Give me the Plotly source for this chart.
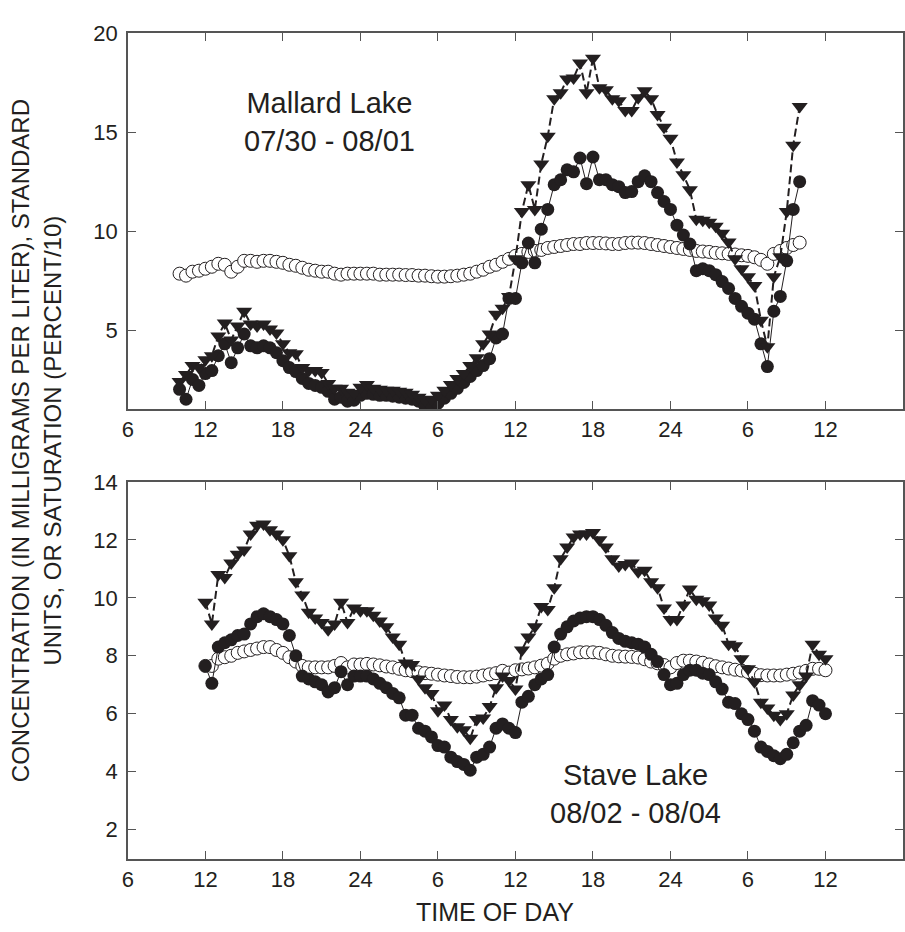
import plotly.graph_objects as go

# ---------------- data ----------------
# Sampling times (hours from midnight of first day), half-hourly
t_mallard = [10, 10.5, 11, 11.5, 12, 12.5, 13, 13.5, 14, 14.5, 15, 15.5, 16, 16.5, 17, 17.5,
             18, 18.5, 19, 19.5, 20, 20.5, 21, 21.5, 22, 22.5, 23, 23.5, 24, 24.5, 25, 25.5,
             26, 26.5, 27, 27.5, 28, 28.5, 29, 29.5, 30, 30.5, 31, 31.5, 32, 32.5, 33, 33.5,
             34, 34.5, 35, 35.5, 36, 36.5, 37, 37.5, 38, 38.5, 39, 39.5, 40, 40.5, 41, 41.5,
             42, 42.5, 43, 43.5, 44, 44.5, 45, 45.5, 46, 46.5, 47, 47.5, 48, 48.5, 49, 49.5,
             50, 50.5, 51, 51.5, 52, 52.5, 53, 53.5, 54, 54.5, 55, 55.5, 56, 56.5, 57, 57.5, 58]

mallard_open = [7.85, 7.75, 7.95, 8.0, 8.1, 8.2, 8.35, 8.3,
                7.95, 8.2, 8.5, 8.5, 8.45, 8.5, 8.5, 8.45,
                8.4, 8.3, 8.25, 8.15, 8.05, 8.0, 7.95, 7.95,
                7.85, 7.8, 7.85, 7.85, 7.85, 7.85, 7.85, 7.8,
                7.8, 7.8, 7.8, 7.78, 7.78, 7.75, 7.75, 7.72,
                7.7, 7.7, 7.72, 7.75, 7.8, 7.85, 7.95, 8.05,
                8.2, 8.3, 8.45, 8.6, 8.75, 8.85, 8.95, 9.0,
                9.05, 9.15, 9.2, 9.25, 9.3, 9.35, 9.35, 9.4,
                9.4, 9.4, 9.38, 9.35, 9.35, 9.4, 9.42, 9.42,
                9.4, 9.35, 9.3, 9.25, 9.2, 9.15, 9.1, 9.05,
                9.0, 8.97, 8.95, 8.9, 8.88, 8.85, 8.82, 8.78,
                8.75, 8.68, 8.55, 8.35, 8.85, 9.0, 9.15, 9.3,
                9.42]

mallard_filled = [2.0, 1.5, 2.5, 2.2, 2.8, 2.95, 3.7, 4.3,
                  3.35, 4.1, 4.8, 4.2, 4.1, 4.2, 4.1, 3.85,
                  3.45, 3.1, 2.9, 2.55, 2.3, 2.2, 2.1, 1.9,
                  1.5, 1.6, 1.4, 1.45, 1.7, 1.8, 1.75, 1.7,
                  1.7, 1.65, 1.6, 1.55, 1.5, 1.4, 1.15, 1.2,
                  1.3, 1.55, 1.8, 2.05, 2.35, 2.65, 2.95, 3.2,
                  3.55, 4.6, 4.8, 6.6, 6.6, 8.4, 9.4, 8.4,
                  10.1, 11.1, 12.35, 12.6, 13.1, 13.0, 13.7, 12.4,
                  13.75, 12.6, 12.6, 12.35, 12.25, 11.95, 12.0, 12.5,
                  12.8, 12.5, 11.95, 11.5, 11.1, 10.3, 9.8, 9.35,
                  8.0, 8.1, 8.0, 7.8, 7.45, 7.1, 6.6, 6.2,
                  5.85, 5.55, 4.3, 3.15, 5.95, 6.7, 8.5, 11.1,
                  12.5]

mallard_tri = [2.4, 2.75, 3.2, 3.1, 3.5, 3.7, 4.7, 5.35,
               4.5, 5.2, 5.95, 5.3, 5.2, 5.3, 5.05, 4.85,
               4.3, 3.85, 3.8, 3.1, 2.95, 2.95, 2.85, 2.3,
               2.05, 2.05, 1.85, 1.8, 2.1, 2.25, 2.05, 2.0,
               1.95, 1.95, 1.9, 1.85, 1.75, 1.6, 1.45, 1.5,
               1.7, 1.95, 2.25, 2.55, 2.8, 3.2, 3.6, 4.3,
               4.8, 5.8, 6.1, 6.7, 8.6, 11.0, 12.35, 11.1,
               13.4, 14.8, 16.7, 17.0, 17.7, 17.75, 18.5, 17.0,
               18.75, 17.25, 17.15, 16.7, 16.6, 16.1, 16.1, 16.75,
               17.1, 16.7, 15.9, 15.25, 14.7, 13.5, 12.85, 12.1,
               10.6, 10.55, 10.45, 10.25, 9.9, 9.45, 8.6, 8.1,
               7.7, 7.25, 5.5, 4.15, 7.7, 8.7, 11.0, 14.35,
               16.3]

t_stave = [12, 12.5, 13, 13.5, 14, 14.5, 15, 15.5, 16, 16.5, 17, 17.5, 18, 18.5, 19, 19.5,
           20, 20.5, 21, 21.5, 22, 22.5, 23, 23.5, 24, 24.5, 25, 25.5, 26, 26.5, 27, 27.5,
           28, 28.5, 29, 29.5, 30, 30.5, 31, 31.5, 32, 32.5, 33, 33.5, 34, 34.5, 35, 35.5,
           36, 36.5, 37, 37.5, 38, 38.5, 39, 39.5, 40, 40.5, 41, 41.5, 42, 42.5, 43, 43.5,
           44, 44.5, 45, 45.5, 46, 46.5, 47, 47.5, 48, 48.5, 49, 49.5, 50, 50.5, 51, 51.5,
           52, 52.5, 53, 53.5, 54, 54.5, 55, 55.5, 56, 56.5, 57, 57.5, 58, 58.5, 59, 59.5, 60]

stave_tri = [9.85, 9.1, 10.8, 10.7, 11.2, 11.5, 11.65, 12.2,
             12.5, 12.55, 12.35, 12.2, 12.0, 11.45, 10.55, 10.1,
             9.5, 9.3, 9.15, 8.9, 9.1, 9.85, 9.15, 9.65,
             9.55, 9.55, 9.4, 9.2, 9.0, 8.65, 8.4, 7.75,
             7.7, 7.2, 6.9, 6.7, 6.1, 6.3, 5.8, 5.55,
             5.45, 5.15, 5.8, 5.85, 6.25, 6.9, 7.3, 7.15,
             6.85, 8.2, 8.65, 9.0, 9.7, 9.6, 10.35, 11.35,
             11.75, 12.1, 12.2, 12.2, 12.25, 12.0, 11.75, 11.35,
             11.1, 11.15, 11.2, 10.9, 10.95, 10.55, 10.35, 9.65,
             9.25, 9.25, 9.75, 10.3, 9.95, 9.9, 9.75, 9.3,
             9.05, 8.4, 8.35, 7.9, 7.55, 7.1, 6.4, 6.2,
             5.95, 5.8, 6.0, 6.65, 7.0, 7.3, 8.4, 8.05,
             7.9]

stave_filled = [7.65, 7.05, 8.3, 8.45, 8.55, 8.7, 8.75, 9.1,
                9.35, 9.45, 9.35, 9.25, 9.1, 8.7, 8.0, 7.3,
                7.2, 7.1, 7.0, 6.75, 6.9, 7.45, 7.0, 7.3,
                7.3, 7.3, 7.2, 7.05, 6.9, 6.7, 6.55, 5.95,
                5.95, 5.5, 5.4, 5.2, 4.9, 4.85, 4.5, 4.35,
                4.25, 4.05, 4.5, 4.6, 4.85, 5.5, 5.65, 5.5,
                5.35, 6.4, 6.6, 7.0, 7.2, 7.35, 8.3, 8.75,
                9.0, 9.2, 9.3, 9.35, 9.35, 9.25, 9.05, 8.8,
                8.6, 8.5, 8.45, 8.4, 8.3, 8.05, 7.8, 7.35,
                7.0, 7.05, 7.35, 7.5, 7.5, 7.4, 7.35, 7.1,
                6.85, 6.4, 6.35, 6.0, 5.8, 5.4, 4.85, 4.7,
                4.55, 4.45, 4.6, 5.0, 5.4, 5.6, 6.45, 6.3,
                6.0]

stave_open = [7.65, 7.65, 7.9, 7.95, 8.0, 8.1, 8.15, 8.2,
              8.25, 8.3, 8.3, 8.2, 8.1, 7.95, 7.8, 7.65,
              7.6, 7.6, 7.6, 7.6, 7.65, 7.75, 7.6, 7.7,
              7.7, 7.72, 7.7, 7.67, 7.63, 7.6, 7.55, 7.5,
              7.47, 7.43, 7.4, 7.38, 7.35, 7.32, 7.3, 7.27,
              7.26, 7.26, 7.28, 7.32, 7.36, 7.4, 7.48, 7.42,
              7.5, 7.53, 7.56, 7.6, 7.66, 7.73, 7.9, 8.0,
              8.05, 8.08, 8.12, 8.12, 8.12, 8.1, 8.05, 8.0,
              7.98, 7.97, 7.96, 7.94, 7.88, 7.8, 7.74, 7.68,
              7.6, 7.75, 7.83, 7.83, 7.8, 7.76, 7.7, 7.64,
              7.6, 7.56, 7.52, 7.49, 7.44, 7.38, 7.33, 7.32,
              7.32, 7.32, 7.35, 7.38, 7.42, 7.48, 7.55, 7.55,
              7.5]

x_tickvals = [6, 12, 18, 24, 30, 36, 42, 48, 54, 60, 66]
x_ticktext = ["6", "12", "18", "24", "6", "12", "18", "24", "6", "12", ""]
y_top_ticks = [5, 10, 15, 20]
y_bot_ticks = [2, 4, 6, 8, 10, 12, 14]

for a in (mallard_open, mallard_filled, mallard_tri):
    assert len(a) == len(t_mallard), len(a)
for a in (stave_open, stave_filled, stave_tri):
    assert len(a) == len(t_stave), len(a)

# ---------------- styling ----------------
INK = "#231f20"
FONT = "Liberation Sans, Arial, Helvetica, sans-serif"
W, H = 905, 932

fig = go.Figure()


def add_panel(t, op, fi, tr, xa, ya):
    fig.add_trace(go.Scatter(x=t, y=op, mode="lines+markers", xaxis=xa, yaxis=ya,
                             line=dict(color=INK, width=0.8),
                             marker=dict(symbol="circle", size=13, color="white",
                                         line=dict(color=INK, width=1)),
                             showlegend=False))
    fig.add_trace(go.Scatter(x=t, y=fi, mode="lines+markers", xaxis=xa, yaxis=ya,
                             line=dict(color=INK, width=1),
                             marker=dict(symbol="circle", size=13, color=INK,
                                         line=dict(width=0)),
                             showlegend=False))
    fig.add_trace(go.Scatter(x=t, y=tr, mode="lines+markers", xaxis=xa, yaxis=ya,
                             line=dict(color=INK, width=2, dash="8px,4px"),
                             marker=dict(symbol="triangle-down", size=14, color=INK,
                                         line=dict(width=0)),
                             showlegend=False))


add_panel(t_mallard, mallard_open, mallard_filled, mallard_tri, "x", "y")
add_panel(t_stave, stave_open, stave_filled, stave_tri, "x2", "y2")

xdom = [122.7 / W, 903 / W]
common_x = dict(range=[6, 66], tickmode="array", tickvals=x_tickvals, ticktext=x_ticktext,
                ticks="inside", ticklen=8, tickwidth=1, tickcolor="#555",
                showline=True, linecolor="#555", linewidth=1.5, mirror="allticks",
                showgrid=False, zeroline=False,
                tickfont=dict(family=FONT, size=22, color=INK), domain=xdom)
common_y = dict(ticks="inside", ticklen=8, tickwidth=1, tickcolor="#555",
                showline=True, linecolor="#555", linewidth=1.5, mirror="allticks",
                showgrid=False, zeroline=False, ticklabelstandoff=4,
                tickfont=dict(family=FONT, size=22, color=INK))

fig.update_layout(
    width=W, height=H,
    margin=dict(l=0, r=0, t=0, b=0),
    paper_bgcolor="white", plot_bgcolor="white",
    xaxis=dict(common_x, anchor="y"),
    yaxis=dict(common_y, range=[1, 20], tickmode="array", tickvals=y_top_ticks,
               domain=[1 - 402.3 / H, 1 - 21.7 / H], anchor="x"),
    xaxis2=dict(common_x, anchor="y2"),
    yaxis2=dict(common_y, range=[1, 14], tickmode="array", tickvals=y_bot_ticks,
                domain=[1 - 857.7 / H, 1 - 476 / H], anchor="x2"),
)

ann_font = dict(family=FONT, size=29, color=INK)
fig.add_annotation(text="Mallard Lake<br>07/30 - 08/01", x=326 / W, y=1 - 111 / H,
                   xref="paper", yref="paper", showarrow=False, font=ann_font,
                   xanchor="center", yanchor="middle", align="center")
fig.add_annotation(text="Stave Lake<br>08/02 - 08/04", x=634 / W, y=1 - 792 / H,
                   xref="paper", yref="paper", showarrow=False, font=ann_font,
                   xanchor="center", yanchor="middle", align="center")
fig.add_annotation(text="TIME OF DAY", x=492 / W, y=1 - 912 / H,
                   xref="paper", yref="paper", showarrow=False,
                   font=dict(family=FONT, size=25, color=INK),
                   xanchor="center", yanchor="middle")
fig.add_annotation(text="CONCENTRATION (IN MILLIGRAMS PER LITER), STANDARD<br>UNITS, OR SATURATION (PERCENT/10)",
                   x=31 / W, y=1 - 434 / H, xref="paper", yref="paper", showarrow=False,
                   textangle=-90, font=dict(family=FONT, size=24, color=INK),
                   xanchor="center", yanchor="middle", align="center")

fig.write_html("out.html")
